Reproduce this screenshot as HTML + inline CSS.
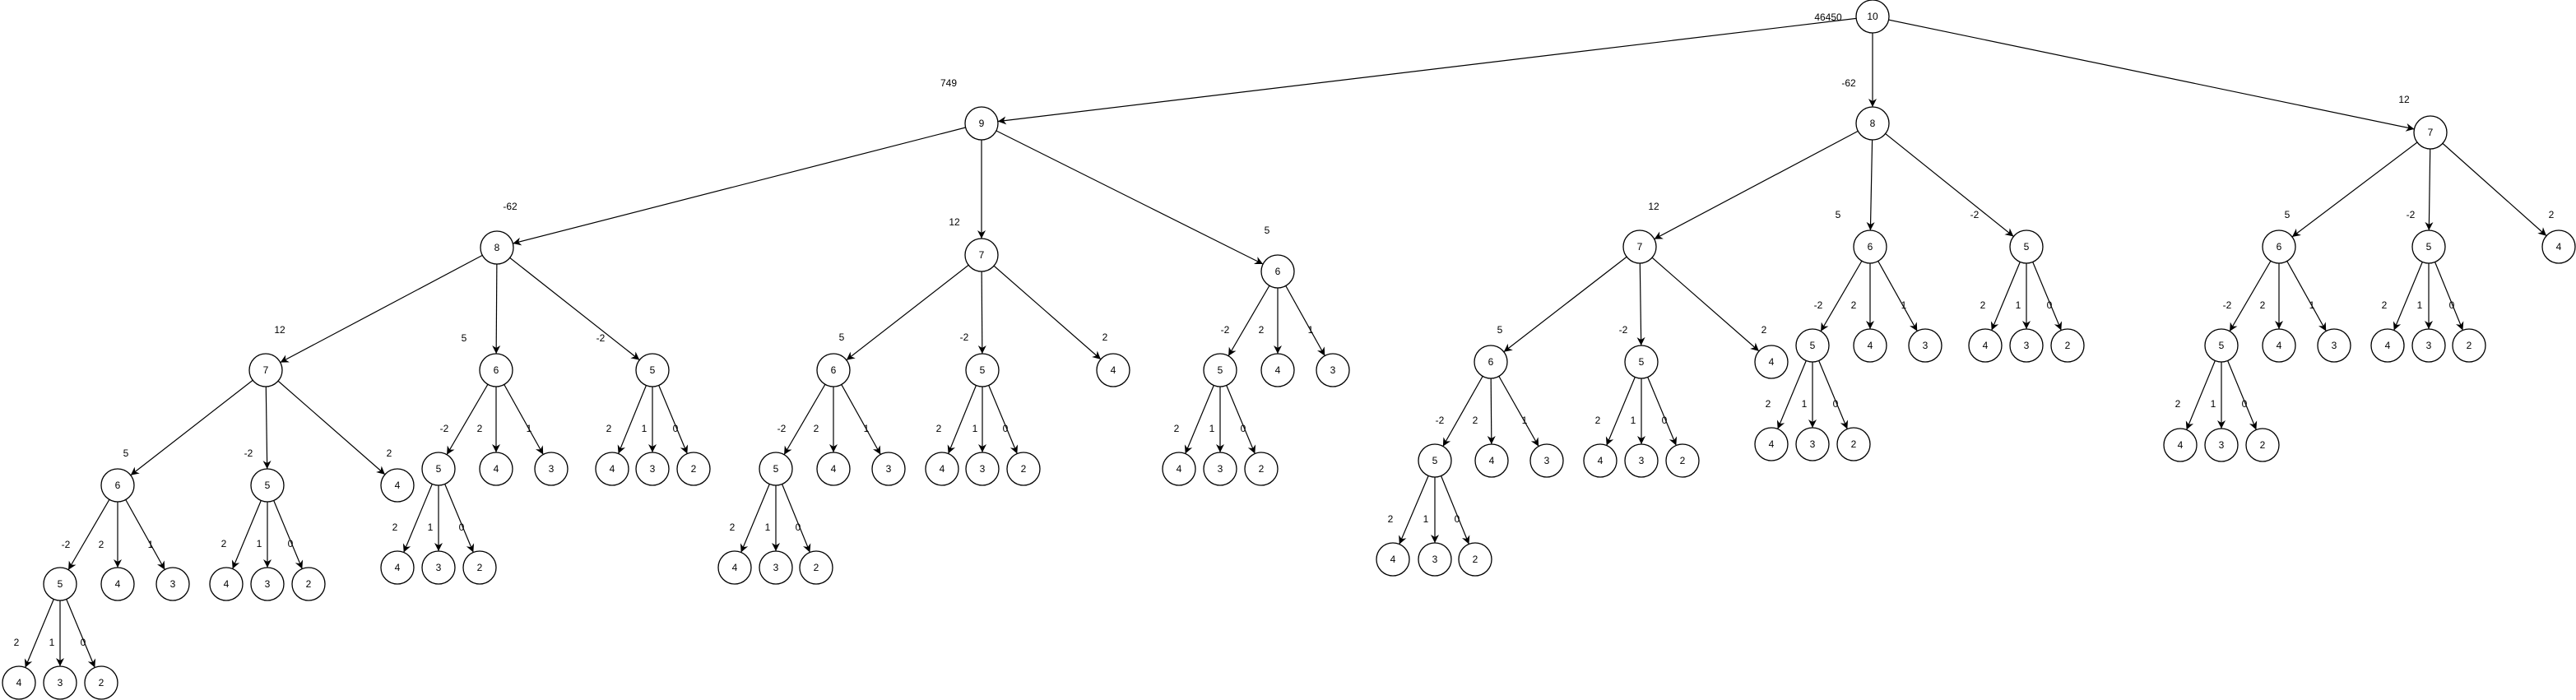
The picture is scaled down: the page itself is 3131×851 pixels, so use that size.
<!DOCTYPE html>
<html><head><meta charset="utf-8"><style>
html,body{margin:0;padding:0;background:#fff;}
svg{display:block;}
text{font-family:"Liberation Sans",Arial,sans-serif;font-size:12px;fill:#000;text-anchor:middle;dominant-baseline:central;}
line{stroke:#000;stroke-width:1.2;marker-end:url(#a);}
circle{fill:#fff;stroke:#000;stroke-width:1.3;}
</style></head><body>
<svg width="3131" height="851" viewBox="0 0 3131 851" xmlns="http://www.w3.org/2000/svg">
<defs><marker id="a" markerUnits="userSpaceOnUse" markerWidth="40" markerHeight="12" refX="30" refY="5" orient="auto" overflow="visible"><path d="M0,0 L10,5 L0,10 L3,5 Z" fill="#000"/></marker></defs>
<g>
<line x1="2276" y1="20" x2="1193" y2="150"/><line x1="2276" y1="20" x2="2276" y2="150"/><line x1="2276" y1="20" x2="2954" y2="161"/>
<line x1="1193" y1="150" x2="604" y2="301"/><line x1="1193" y1="150" x2="1193" y2="310"/><line x1="1193" y1="150" x2="1553" y2="330"/>
<line x1="604" y1="301" x2="323" y2="450"/><line x1="604" y1="301" x2="603" y2="450"/><line x1="604" y1="301" x2="793" y2="450"/>
<line x1="323" y1="450" x2="143" y2="590"/><line x1="323" y1="450" x2="325" y2="590"/><line x1="323" y1="450" x2="483" y2="590"/>
<line x1="143" y1="590" x2="73" y2="710"/><line x1="143" y1="590" x2="143" y2="710"/><line x1="143" y1="590" x2="210" y2="710"/>
<line x1="73" y1="710" x2="23" y2="830"/><line x1="73" y1="710" x2="73" y2="830"/><line x1="73" y1="710" x2="123" y2="830"/>
<line x1="325" y1="590" x2="275" y2="710"/><line x1="325" y1="590" x2="325" y2="710"/><line x1="325" y1="590" x2="375" y2="710"/>
<line x1="603" y1="450" x2="533" y2="570"/><line x1="603" y1="450" x2="603" y2="570"/><line x1="603" y1="450" x2="670" y2="570"/>
<line x1="533" y1="570" x2="483" y2="690"/><line x1="533" y1="570" x2="533" y2="690"/><line x1="533" y1="570" x2="583" y2="690"/>
<line x1="793" y1="450" x2="744" y2="570"/><line x1="793" y1="450" x2="793" y2="570"/><line x1="793" y1="450" x2="843" y2="570"/>
<line x1="1193" y1="310" x2="1013" y2="450"/><line x1="1193" y1="310" x2="1194" y2="450"/><line x1="1193" y1="310" x2="1353" y2="450"/>
<line x1="1013" y1="450" x2="943" y2="570"/><line x1="1013" y1="450" x2="1013" y2="570"/><line x1="1013" y1="450" x2="1080" y2="570"/>
<line x1="943" y1="570" x2="893" y2="690"/><line x1="943" y1="570" x2="943" y2="690"/><line x1="943" y1="570" x2="992" y2="690"/>
<line x1="1194" y1="450" x2="1145" y2="570"/><line x1="1194" y1="450" x2="1194" y2="570"/><line x1="1194" y1="450" x2="1244" y2="570"/>
<line x1="1553" y1="330" x2="1483" y2="450"/><line x1="1553" y1="330" x2="1553" y2="450"/><line x1="1553" y1="330" x2="1620" y2="450"/>
<line x1="1483" y1="450" x2="1433" y2="570"/><line x1="1483" y1="450" x2="1483" y2="570"/><line x1="1483" y1="450" x2="1533" y2="570"/>
<line x1="2276" y1="150" x2="1993" y2="300"/><line x1="2276" y1="150" x2="2273" y2="300"/><line x1="2276" y1="150" x2="2463" y2="300"/>
<line x1="1993" y1="300" x2="1812" y2="440"/><line x1="1993" y1="300" x2="1995" y2="440"/><line x1="1993" y1="300" x2="2153" y2="440"/>
<line x1="1812" y1="440" x2="1744" y2="560"/><line x1="1812" y1="440" x2="1813" y2="560"/><line x1="1812" y1="440" x2="1880" y2="560"/>
<line x1="1744" y1="560" x2="1693" y2="680"/><line x1="1744" y1="560" x2="1744" y2="680"/><line x1="1744" y1="560" x2="1793" y2="680"/>
<line x1="1995" y1="440" x2="1945" y2="560"/><line x1="1995" y1="440" x2="1995" y2="560"/><line x1="1995" y1="440" x2="2045" y2="560"/>
<line x1="2273" y1="300" x2="2203" y2="420"/><line x1="2273" y1="300" x2="2273" y2="420"/><line x1="2273" y1="300" x2="2340" y2="420"/>
<line x1="2203" y1="420" x2="2153" y2="540"/><line x1="2203" y1="420" x2="2203" y2="540"/><line x1="2203" y1="420" x2="2253" y2="540"/>
<line x1="2463" y1="300" x2="2413" y2="420"/><line x1="2463" y1="300" x2="2463" y2="420"/><line x1="2463" y1="300" x2="2513" y2="420"/>
<line x1="2954" y1="161" x2="2770" y2="300"/><line x1="2954" y1="161" x2="2952" y2="300"/><line x1="2954" y1="161" x2="3110" y2="300"/>
<line x1="2770" y1="300" x2="2700" y2="420"/><line x1="2770" y1="300" x2="2770" y2="420"/><line x1="2770" y1="300" x2="2837" y2="420"/>
<line x1="2700" y1="420" x2="2650" y2="541"/><line x1="2700" y1="420" x2="2700" y2="541"/><line x1="2700" y1="420" x2="2750" y2="541"/>
<line x1="2952" y1="300" x2="2902" y2="420"/><line x1="2952" y1="300" x2="2952" y2="420"/><line x1="2952" y1="300" x2="3001" y2="420"/>
</g>
<g>
<circle cx="2276" cy="20" r="20"/><text x="2276" y="20">10</text>
<circle cx="1193" cy="150" r="20"/><text x="1193" y="150">9</text>
<circle cx="2276" cy="150" r="20"/><text x="2276" y="150">8</text>
<circle cx="2954" cy="161" r="20"/><text x="2954" y="161">7</text>
<circle cx="604" cy="301" r="20"/><text x="604" y="301">8</text>
<circle cx="1193" cy="310" r="20"/><text x="1193" y="310">7</text>
<circle cx="1553" cy="330" r="20"/><text x="1553" y="330">6</text>
<circle cx="323" cy="450" r="20"/><text x="323" y="450">7</text>
<circle cx="603" cy="450" r="20"/><text x="603" y="450">6</text>
<circle cx="793" cy="450" r="20"/><text x="793" y="450">5</text>
<circle cx="143" cy="590" r="20"/><text x="143" y="590">6</text>
<circle cx="325" cy="590" r="20"/><text x="325" y="590">5</text>
<circle cx="483" cy="590" r="20"/><text x="483" y="590">4</text>
<circle cx="73" cy="710" r="20"/><text x="73" y="710">5</text>
<circle cx="143" cy="710" r="20"/><text x="143" y="710">4</text>
<circle cx="210" cy="710" r="20"/><text x="210" y="710">3</text>
<circle cx="23" cy="830" r="20"/><text x="23" y="830">4</text>
<circle cx="73" cy="830" r="20"/><text x="73" y="830">3</text>
<circle cx="123" cy="830" r="20"/><text x="123" y="830">2</text>
<circle cx="275" cy="710" r="20"/><text x="275" y="710">4</text>
<circle cx="325" cy="710" r="20"/><text x="325" y="710">3</text>
<circle cx="375" cy="710" r="20"/><text x="375" y="710">2</text>
<circle cx="533" cy="570" r="20"/><text x="533" y="570">5</text>
<circle cx="603" cy="570" r="20"/><text x="603" y="570">4</text>
<circle cx="670" cy="570" r="20"/><text x="670" y="570">3</text>
<circle cx="483" cy="690" r="20"/><text x="483" y="690">4</text>
<circle cx="533" cy="690" r="20"/><text x="533" y="690">3</text>
<circle cx="583" cy="690" r="20"/><text x="583" y="690">2</text>
<circle cx="744" cy="570" r="20"/><text x="744" y="570">4</text>
<circle cx="793" cy="570" r="20"/><text x="793" y="570">3</text>
<circle cx="843" cy="570" r="20"/><text x="843" y="570">2</text>
<circle cx="1013" cy="450" r="20"/><text x="1013" y="450">6</text>
<circle cx="1194" cy="450" r="20"/><text x="1194" y="450">5</text>
<circle cx="1353" cy="450" r="20"/><text x="1353" y="450">4</text>
<circle cx="943" cy="570" r="20"/><text x="943" y="570">5</text>
<circle cx="1013" cy="570" r="20"/><text x="1013" y="570">4</text>
<circle cx="1080" cy="570" r="20"/><text x="1080" y="570">3</text>
<circle cx="893" cy="690" r="20"/><text x="893" y="690">4</text>
<circle cx="943" cy="690" r="20"/><text x="943" y="690">3</text>
<circle cx="992" cy="690" r="20"/><text x="992" y="690">2</text>
<circle cx="1145" cy="570" r="20"/><text x="1145" y="570">4</text>
<circle cx="1194" cy="570" r="20"/><text x="1194" y="570">3</text>
<circle cx="1244" cy="570" r="20"/><text x="1244" y="570">2</text>
<circle cx="1483" cy="450" r="20"/><text x="1483" y="450">5</text>
<circle cx="1553" cy="450" r="20"/><text x="1553" y="450">4</text>
<circle cx="1620" cy="450" r="20"/><text x="1620" y="450">3</text>
<circle cx="1433" cy="570" r="20"/><text x="1433" y="570">4</text>
<circle cx="1483" cy="570" r="20"/><text x="1483" y="570">3</text>
<circle cx="1533" cy="570" r="20"/><text x="1533" y="570">2</text>
<circle cx="1993" cy="300" r="20"/><text x="1993" y="300">7</text>
<circle cx="2273" cy="300" r="20"/><text x="2273" y="300">6</text>
<circle cx="2463" cy="300" r="20"/><text x="2463" y="300">5</text>
<circle cx="1812" cy="440" r="20"/><text x="1812" y="440">6</text>
<circle cx="1995" cy="440" r="20"/><text x="1995" y="440">5</text>
<circle cx="2153" cy="440" r="20"/><text x="2153" y="440">4</text>
<circle cx="1744" cy="560" r="20"/><text x="1744" y="560">5</text>
<circle cx="1813" cy="560" r="20"/><text x="1813" y="560">4</text>
<circle cx="1880" cy="560" r="20"/><text x="1880" y="560">3</text>
<circle cx="1693" cy="680" r="20"/><text x="1693" y="680">4</text>
<circle cx="1744" cy="680" r="20"/><text x="1744" y="680">3</text>
<circle cx="1793" cy="680" r="20"/><text x="1793" y="680">2</text>
<circle cx="1945" cy="560" r="20"/><text x="1945" y="560">4</text>
<circle cx="1995" cy="560" r="20"/><text x="1995" y="560">3</text>
<circle cx="2045" cy="560" r="20"/><text x="2045" y="560">2</text>
<circle cx="2203" cy="420" r="20"/><text x="2203" y="420">5</text>
<circle cx="2273" cy="420" r="20"/><text x="2273" y="420">4</text>
<circle cx="2340" cy="420" r="20"/><text x="2340" y="420">3</text>
<circle cx="2153" cy="540" r="20"/><text x="2153" y="540">4</text>
<circle cx="2203" cy="540" r="20"/><text x="2203" y="540">3</text>
<circle cx="2253" cy="540" r="20"/><text x="2253" y="540">2</text>
<circle cx="2413" cy="420" r="20"/><text x="2413" y="420">4</text>
<circle cx="2463" cy="420" r="20"/><text x="2463" y="420">3</text>
<circle cx="2513" cy="420" r="20"/><text x="2513" y="420">2</text>
<circle cx="2770" cy="300" r="20"/><text x="2770" y="300">6</text>
<circle cx="2952" cy="300" r="20"/><text x="2952" y="300">5</text>
<circle cx="3110" cy="300" r="20"/><text x="3110" y="300">4</text>
<circle cx="2700" cy="420" r="20"/><text x="2700" y="420">5</text>
<circle cx="2770" cy="420" r="20"/><text x="2770" y="420">4</text>
<circle cx="2837" cy="420" r="20"/><text x="2837" y="420">3</text>
<circle cx="2650" cy="541" r="20"/><text x="2650" y="541">4</text>
<circle cx="2700" cy="541" r="20"/><text x="2700" y="541">3</text>
<circle cx="2750" cy="541" r="20"/><text x="2750" y="541">2</text>
<circle cx="2902" cy="420" r="20"/><text x="2902" y="420">4</text>
<circle cx="2952" cy="420" r="20"/><text x="2952" y="420">3</text>
<circle cx="3001" cy="420" r="20"/><text x="3001" y="420">2</text>
</g>
<g>
<text x="2222" y="21">46450</text><text x="1153" y="101">749</text><text x="2247" y="101">-62</text><text x="2922" y="121">12</text>
<text x="620" y="251">-62</text><text x="1160" y="270">12</text><text x="1540" y="280">5</text>
<text x="340" y="401">12</text><text x="564" y="411">5</text><text x="730" y="411">-2</text>
<text x="153" y="551">5</text><text x="302" y="551">-2</text><text x="473" y="551">2</text>
<text x="80" y="662">-2</text><text x="123" y="662">2</text><text x="183" y="662">1</text>
<text x="20" y="781">2</text><text x="63" y="781">1</text><text x="101" y="781">0</text>
<text x="272" y="661">2</text><text x="315" y="661">1</text><text x="353" y="661">0</text>
<text x="540" y="521">-2</text><text x="583" y="521">2</text><text x="643" y="521">1</text>
<text x="480" y="641">2</text><text x="523" y="641">1</text><text x="561" y="641">0</text>
<text x="740" y="521">2</text><text x="783" y="521">1</text><text x="821" y="521">0</text>
<text x="1023" y="410">5</text><text x="1172" y="410">-2</text><text x="1343" y="410">2</text>
<text x="950" y="521">-2</text><text x="992" y="521">2</text><text x="1053" y="521">1</text>
<text x="890" y="641">2</text><text x="933" y="641">1</text><text x="970" y="641">0</text>
<text x="1141" y="521">2</text><text x="1185" y="521">1</text><text x="1222" y="521">0</text>
<text x="1489" y="401">-2</text><text x="1533" y="401">2</text><text x="1593" y="401">1</text>
<text x="1430" y="521">2</text><text x="1473" y="521">1</text><text x="1511" y="521">0</text>
<text x="2010" y="251">12</text><text x="2234" y="261">5</text><text x="2400" y="261">-2</text>
<text x="1823" y="401">5</text><text x="1973" y="401">-2</text><text x="2144" y="401">2</text>
<text x="1750" y="511">-2</text><text x="1793" y="511">2</text><text x="1853" y="511">1</text>
<text x="1690" y="631">2</text><text x="1733" y="631">1</text><text x="1771" y="631">0</text>
<text x="1942" y="511">2</text><text x="1985" y="511">1</text><text x="2023" y="511">0</text>
<text x="2210" y="371">-2</text><text x="2253" y="371">2</text><text x="2314" y="371">1</text>
<text x="2149" y="491">2</text><text x="2193" y="491">1</text><text x="2231" y="491">0</text>
<text x="2410" y="371">2</text><text x="2453" y="371">1</text><text x="2491" y="371">0</text>
<text x="2780" y="261">5</text><text x="2930" y="261">-2</text><text x="3101" y="261">2</text>
<text x="2707" y="371">-2</text><text x="2750" y="371">2</text><text x="2810" y="371">1</text>
<text x="2647" y="491">2</text><text x="2690" y="491">1</text><text x="2728" y="491">0</text>
<text x="2898" y="371">2</text><text x="2941" y="371">1</text><text x="2980" y="371">0</text>
</g>
</svg>
</body></html>
